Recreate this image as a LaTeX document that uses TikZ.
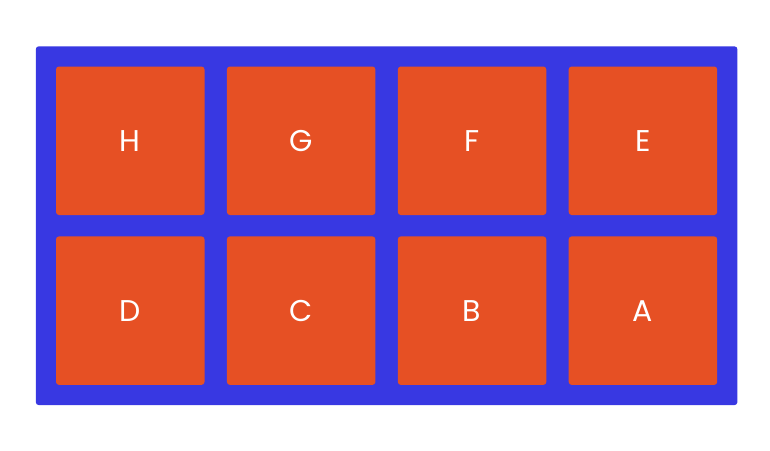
\documentclass[tikz,border=0pt]{standalone}
\usepackage{fontspec}
\setmainfont{Poppins}
\usetikzlibrary{positioning,fit,backgrounds}
\definecolor{tileorange}{HTML}{E65024}
\definecolor{frameblue}{HTML}{3838E2}

\begin{document}
\begin{tikzpicture}[x=1pt, y=-1pt, node distance=22pt,
        tile/.style={rectangle, rounded corners=3pt, fill=tileorange, text=white, minimum size=148.5pt, inner sep=0pt, font=\fontsize{30}{34}\selectfont},
        frame/.style={rectangle, rounded corners=3pt, fill=frameblue, inner sep=20pt}]

        \useasboundingbox (0,0) rectangle (770,450);

        \node[tile] (h) at (130.25,140.75) {H};
        \node[tile, right=of h] (g) {G};
        \node[tile, right=of g] (f) {F};
        \node[tile, right=of f] (e) {E};
        \node[tile, below=21pt of h] (d) {D};
        \node[tile, right=of d] (c) {C};
        \node[tile, right=of c] (b) {B};
        \node[tile, right=of b] (a) {A};

        \begin{scope}[on background layer]
            \node[frame, fit=(h) (e) (d) (a)] (rack) {};
        \end{scope}
    \end{tikzpicture}
\end{document}
